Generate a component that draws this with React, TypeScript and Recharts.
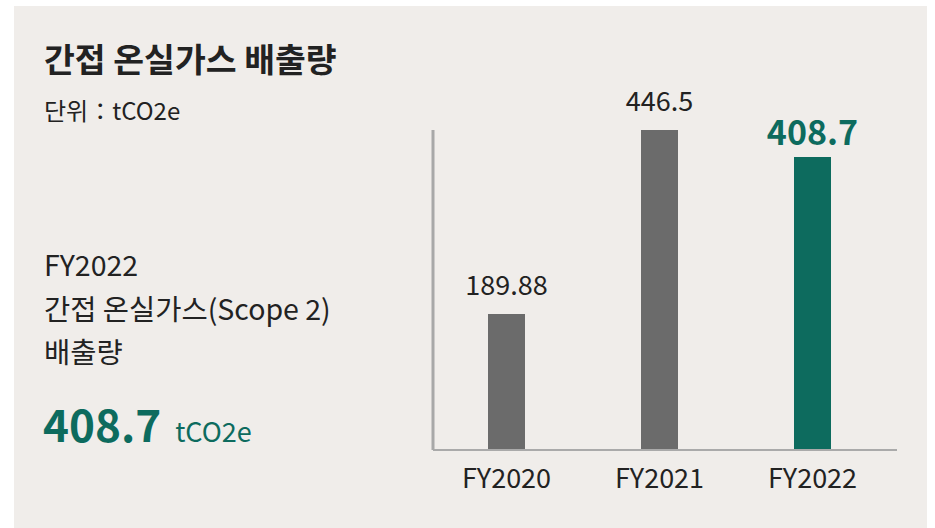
import { BarChart, Bar, XAxis, YAxis, Cell, LabelList } from 'recharts';

const categories = ['FY2020', 'FY2021', 'FY2022'];
const emissions = [189.88, 446.5, 408.7];
const barColors = ['#6b6b6b', '#6b6b6b', '#0d6b5e'];

const FONT = '"Noto Sans CJK KR", "Noto Sans", sans-serif';
const TEAL = '#0d6b5e';

const data = categories.map((year, i) => ({ year, value: emissions[i] }));

const renderLabel = (props: any) => {
  const { x, y, width, value, index } = props;
  const highlight = index === categories.length - 1;
  return (
    <text
      x={x + width / 2}
      y={y - (highlight ? 12 : 19)}
      textAnchor="middle"
      fontSize={highlight ? 34 : 27}
      fontWeight={highlight ? 700 : 400}
      fill={highlight ? TEAL : '#222'}
      fontFamily={FONT}
    >
      {value}
    </text>
  );
};

export default function App() {
  return (
    <div style={{ position: 'absolute', left: 0, top: 0, width: 935, height: 528, background: '#fff', fontFamily: FONT, overflow: 'hidden' }}>
      <div style={{ position: 'absolute', left: 14, top: 6, width: 913, height: 522, background: '#f0edea' }} />

      <div style={{ position: 'absolute', left: 44, top: 41, fontSize: 33.5, fontWeight: 700, lineHeight: '33px', color: '#222', whiteSpace: 'nowrap' }}>
        간접 온실가스 배출량
      </div>
      <div style={{ position: 'absolute', left: 44, top: 98, fontSize: 24, lineHeight: '24px', color: '#222', whiteSpace: 'nowrap' }}>
        단위：tCO2e
      </div>

      <div style={{ position: 'absolute', left: 44, top: 250, fontSize: 28.5, color: '#222', whiteSpace: 'nowrap' }}>
        <div style={{ lineHeight: '28px' }}>FY2022</div>
        <div style={{ lineHeight: '28px', marginTop: 15.5 }}>간접 온실가스(Scope 2)</div>
        <div style={{ lineHeight: '28px', marginTop: 15.5 }}>배출량</div>
      </div>

      <div style={{ position: 'absolute', left: 43, top: 401, color: TEAL, whiteSpace: 'nowrap' }}>
        <span style={{ fontSize: 44, fontWeight: 700, lineHeight: '44px' }}>408.7</span>
        <span style={{ fontSize: 27, marginLeft: 14 }}>tCO2e</span>
      </div>

      <div style={{ position: 'absolute', left: 0, top: 0 }}>
        <BarChart
          width={935}
          height={528}
          data={data}
          margin={{ top: 130, right: 38, bottom: 38, left: 430 }}
          style={{ fontFamily: FONT }}
        >
          <XAxis
            dataKey="year"
            height={40}
            padding={{ left: -3, right: 8 }}
            axisLine={{ stroke: '#aaa', strokeWidth: 2 }}
            tickLine={false}
            tickSize={0}
            tickMargin={19}
            tick={{ fontSize: 27, fill: '#222' }}
          />
          <YAxis
            width={3}
            domain={[0, 'dataMax']}
            tick={false}
            tickLine={false}
            axisLine={{ stroke: '#a8a8a8', strokeWidth: 3 }}
          />
          <Bar dataKey="value" barSize={37} isAnimationActive={false}>
            {data.map((d, i) => (
              <Cell key={d.year} fill={barColors[i]} />
            ))}
            <LabelList dataKey="value" content={renderLabel} />
          </Bar>
        </BarChart>
      </div>
    </div>
  );
}
